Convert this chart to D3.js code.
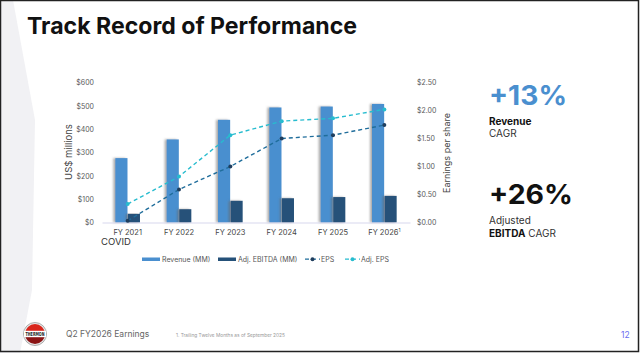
<!DOCTYPE html>
<html>
<head>
<meta charset="utf-8">
<script src="https://cdn.jsdelivr.net/npm/d3@7"></script>
<style>
  body { margin: 0; background: #fff; }
  svg { display: block; font-family: Inter, "Open Sans", sans-serif; }
</style>
</head>
<body>
<svg id="slide" width="640" height="353"></svg>
<script>
// chart data
var years = ["FY 2021", "FY 2022", "FY 2023", "FY 2024", "FY 2025", "FY 2026"];
var revenue = [276, 356, 440, 493, 497, 508];
var ebitda = [37, 57, 93, 104, 109, 114];
var eps = [0.03, 0.59, 1.00, 1.50, 1.56, 1.74];
var adjEps = [0.33, 0.82, 1.56, 1.81, 1.86, 2.02];
var leftTicks = [0, 100, 200, 300, 400, 500, 600];
var rightTicks = [0, 0.5, 1, 1.5, 2, 2.5];

var svg = d3.select("#slide");

// slide background bits
svg.append("polygon")
  .attr("points", "0,0 13,0 35,120 32,290 20,353 0,353")
  .attr("fill", "#f1f1f4");

svg.append("text")
  .attr("x", 27).attr("y", 34)
  .attr("font-size", 23).attr("font-weight", 700)
  .attr("fill", "#111")
  .attr("textLength", 330).attr("lengthAdjust", "spacingAndGlyphs")
  .text("Track Record of Performance");

// shadow for bars
var defs = svg.append("defs");
var f = defs.append("filter").attr("id", "shadow")
  .attr("x", "-40%").attr("y", "-10%").attr("width", "180%").attr("height", "120%");
f.append("feDropShadow")
  .attr("dx", -2).attr("dy", 0).attr("stdDeviation", 0.8)
  .attr("flood-color", "#666").attr("flood-opacity", 0.55);

var x = d3.scaleBand().domain(years).range([102, 410]).paddingInner(0.52).paddingOuter(0.26);
var sub = d3.scaleBand().domain(["rev", "ebitda"]).range([0, x.bandwidth()]).paddingInner(0.03);
var yL = d3.scaleLinear().domain([0, 600]).range([222.5, 82.5]);
var yR = d3.scaleLinear().domain([0, 2.5]).range([222.5, 82.5]);

var revColor = "#4a8fcf", ebColor = "#255179";
var epsColor = "#1f6d9b", epsDot = "#1f3e5e", adjColor = "#27bccf";

// left axis
var gL = svg.append("g").attr("transform", "translate(94,0)")
  .call(d3.axisLeft(yL).tickValues(leftTicks).tickSize(0).tickPadding(0)
    .tickFormat(function(d){ return "$" + d; }));
gL.select(".domain").remove();
gL.selectAll("text").attr("font-size", 7).attr("fill", "#595959").attr("font-family", "Inter, sans-serif");

// right axis
var gR = svg.append("g").attr("transform", "translate(417,0)")
  .call(d3.axisRight(yR).tickValues(rightTicks).tickSize(0).tickPadding(0)
    .tickFormat(d3.format("$.2f")));
gR.select(".domain").remove();
gR.selectAll("text").attr("font-size", 7).attr("fill", "#595959").attr("font-family", "Inter, sans-serif");

svg.append("text")
  .attr("transform", "translate(72,152) rotate(-90)")
  .attr("text-anchor", "middle").attr("font-size", 9.5).attr("fill", "#444")
  .text("US$ millions");
svg.append("text")
  .attr("transform", "translate(450,153) rotate(-90)")
  .attr("text-anchor", "middle").attr("font-size", 9).attr("fill", "#444")
  .text("Earnings per share");

// bars
var groups = svg.append("g").selectAll("g")
  .data(years).enter().append("g")
  .attr("transform", function(d){ return "translate(" + x(d) + ",0)"; });

groups.append("rect")
  .attr("x", sub("rev")).attr("width", sub.bandwidth())
  .attr("y", function(d, i){ return yL(revenue[i]); })
  .attr("height", function(d, i){ return yL(0) - yL(revenue[i]); })
  .attr("fill", revColor).attr("filter", "url(#shadow)");

groups.append("rect")
  .attr("x", sub("ebitda")).attr("width", sub.bandwidth())
  .attr("y", function(d, i){ return yL(ebitda[i]); })
  .attr("height", function(d, i){ return yL(0) - yL(ebitda[i]); })
  .attr("fill", ebColor).attr("filter", "url(#shadow)");

// x axis
var gX = svg.append("g").attr("transform", "translate(0,222.5)")
  .call(d3.axisBottom(x).tickSize(0).tickPadding(7));
gX.select(".domain").attr("stroke", "#d8d8ee").attr("stroke-width", 1.2);
gX.selectAll("text").attr("font-size", 7.5).attr("fill", "#444").attr("font-family", "Inter, sans-serif");
gX.selectAll(".tick").filter(function(d){ return d === "FY 2026"; })
  .select("text").append("tspan")
  .attr("dy", -3).attr("font-size", 5).text("1");

svg.append("text")
  .attr("x", 101).attr("y", 245)
  .attr("font-size", 9.5).attr("fill", "#333")
  .text("COVID");

// EPS lines
function drawLine(vals, color, dotColor) {
  var line = d3.line()
    .x(function(d, i){ return x(years[i]) + x.bandwidth() / 2; })
    .y(function(d){ return yR(d); });
  svg.append("path").datum(vals)
    .attr("d", line).attr("fill", "none")
    .attr("stroke", color).attr("stroke-width", 1.4)
    .attr("stroke-dasharray", "4,3");
  svg.append("g").selectAll("circle").data(vals).enter().append("circle")
    .attr("cx", function(d, i){ return x(years[i]) + x.bandwidth() / 2; })
    .attr("cy", function(d){ return yR(d); })
    .attr("r", 2).attr("fill", dotColor);
}
drawLine(eps, epsColor, epsDot);
drawLine(adjEps, adjColor, adjColor);

// legend
var lg = svg.append("g").attr("font-size", 7).attr("fill", "#555");
lg.append("rect").attr("x", 142).attr("y", 257.5).attr("width", 18).attr("height", 3.5).attr("fill", revColor);
lg.append("text").attr("x", 162).attr("y", 261.5).text("Revenue (MM)");
lg.append("rect").attr("x", 218).attr("y", 257.5).attr("width", 18).attr("height", 3.5).attr("fill", ebColor);
lg.append("text").attr("x", 238).attr("y", 261.5).text("Adj. EBITDA (MM)");
lg.append("line").attr("x1", 305).attr("x2", 320).attr("y1", 259.2).attr("y2", 259.2)
  .attr("stroke", epsColor).attr("stroke-width", 1.3).attr("stroke-dasharray", "4,3");
lg.append("circle").attr("cx", 312.5).attr("cy", 259.2).attr("r", 2).attr("fill", epsDot);
lg.append("text").attr("x", 321).attr("y", 261.5).text("EPS");
lg.append("line").attr("x1", 345).attr("x2", 360).attr("y1", 259.2).attr("y2", 259.2)
  .attr("stroke", adjColor).attr("stroke-width", 1.3).attr("stroke-dasharray", "4,3");
lg.append("circle").attr("cx", 352.5).attr("cy", 259.2).attr("r", 2).attr("fill", adjColor);
lg.append("text").attr("x", 361).attr("y", 261.5).text("Adj. EPS");

// right-hand callouts
svg.append("text").attr("x", 489).attr("y", 104.5)
  .attr("font-size", 27).attr("font-weight", 700).attr("fill", revColor)
  .attr("textLength", 78).attr("lengthAdjust", "spacingAndGlyphs").text("+13%");
svg.append("text").attr("x", 489).attr("y", 124.5)
  .attr("font-size", 10).attr("font-weight", 700).attr("fill", "#111").text("Revenue");
svg.append("text").attr("x", 489).attr("y", 136.5)
  .attr("font-size", 10).attr("fill", "#333").text("CAGR");
svg.append("text").attr("x", 489).attr("y", 204)
  .attr("font-size", 27).attr("font-weight", 700).attr("fill", "#111")
  .attr("textLength", 84).attr("lengthAdjust", "spacingAndGlyphs").text("+26%");
svg.append("text").attr("x", 489).attr("y", 223.5)
  .attr("font-size", 10).attr("fill", "#333").text("Adjusted");
var eb = svg.append("text").attr("x", 489).attr("y", 236.5).attr("font-size", 10).attr("fill", "#333");
eb.append("tspan").attr("font-weight", 700).attr("fill", "#111").text("EBITDA");
eb.append("tspan").text(" CAGR");

// footer
var logo = svg.append("g").attr("transform", "translate(35,334)");
logo.append("circle").attr("r", 11.5).attr("fill", "#e8e8e8").attr("stroke", "#999").attr("stroke-width", 0.8);
logo.append("path").attr("d", d3.arc()({innerRadius: 0, outerRadius: 10, startAngle: -Math.PI / 2, endAngle: Math.PI / 2}))
  .attr("fill", "#d9261c");
logo.append("path").attr("d", d3.arc()({innerRadius: 0, outerRadius: 10, startAngle: Math.PI / 2, endAngle: Math.PI * 1.5}))
  .attr("fill", "#8b1414");
logo.append("rect").attr("x", -11).attr("y", -3.2).attr("width", 22).attr("height", 6.4).attr("fill", "#fff");
logo.append("text").attr("text-anchor", "middle").attr("y", 2.2)
  .attr("font-size", 5.5).attr("font-weight", 700).attr("fill", "#222")
  .attr("font-family", "'Liberation Sans Narrow', 'DejaVu Sans Condensed', sans-serif")
  .attr("textLength", 19).attr("lengthAdjust", "spacingAndGlyphs").text("THERMON");

svg.append("text").attr("x", 66).attr("y", 337)
  .attr("font-size", 8.5).attr("fill", "#666").text("Q2 FY2026 Earnings");
svg.append("text").attr("x", 176).attr("y", 336.5)
  .attr("font-size", 4.8).attr("fill", "#999")
  .text("1.     Trailing Twelve Months as of September 2025");
svg.append("text").attr("x", 621).attr("y", 337.5)
  .attr("font-size", 8.5).attr("fill", "#6a6cf0").text("12");

// slide frame
svg.append("rect").attr("x", 0.5).attr("y", 0.5).attr("width", 638).attr("height", 351)
  .attr("fill", "none").attr("stroke", "#222").attr("stroke-width", 1.5);
</script>
</body>
</html>
